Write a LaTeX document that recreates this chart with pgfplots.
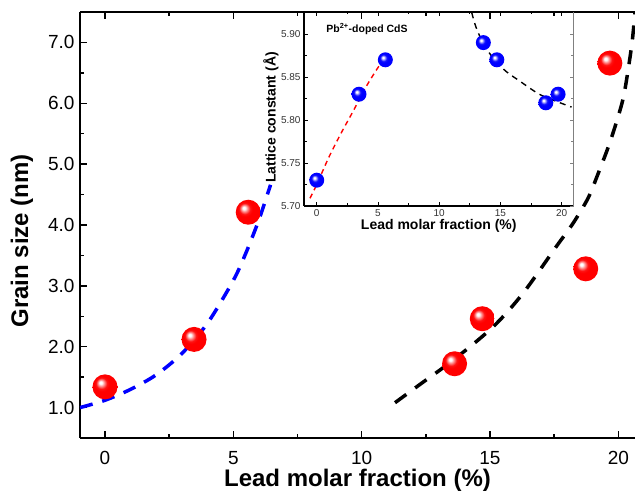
\documentclass[border=0pt]{standalone}
\usepackage{fontspec}
\setmainfont{Liberation Sans}
\usepackage{pgfplots}
\pgfplotsset{compat=1.18}
\pgfdeclareradialshading{redballsh}{\pgfqpoint{-9bp}{9bp}}{color(0bp)=(white); color(2.5bp)=(white); color(6bp)=(red!40!white); color(11bp)=(red!92!white); color(15bp)=(red); color(40bp)=(red); color(50bp)=(red!85!black)}
\pgfdeclareradialshading{blueballsh}{\pgfqpoint{-8bp}{8bp}}{color(0bp)=(white); color(2.5bp)=(white); color(6bp)=(blue!40!white); color(11bp)=(blue!92!white); color(15bp)=(blue); color(40bp)=(blue); color(50bp)=(blue!80!black)}
\pgfdeclareplotmark{redball}{\pgfpathcircle{\pgfpointorigin}{\pgfplotmarksize}\pgfshadepath{redballsh}{0}\pgfusepath{}}
\pgfdeclareplotmark{blueball}{\pgfpathcircle{\pgfpointorigin}{\pgfplotmarksize}\pgfshadepath{blueballsh}{0}\pgfusepath{}}
\begin{document}
\begin{tikzpicture}
\begin{axis}[
  name=main, at={(0,0)}, anchor=south west,
  scale only axis, width=555pt, height=426pt,
  xmin=-0.974, xmax=20.65, ymin=0.5, ymax=7.5,
  separate axis lines,
  axis x line=box, axis y line=left,
  axis line style={line width=2pt},
  y axis line style={-},
  xtick={0,5,10,15,20}, minor xtick={2.5,7.5,12.5,17.5},
  ytick={1,2,3,4,5,6,7}, minor ytick={1.5,2.5,3.5,4.5,5.5,6.5},
  tick align=inside, xtick pos=both, ytick pos=left,
  major tick length=7pt, minor tick length=4pt,
  tick style={line width=1.5pt, black},
  /pgf/number format/assume math mode=true,
  yticklabel style={/pgf/number format/fixed,/pgf/number format/fixed zerofill,/pgf/number format/precision=1, xshift=-2pt},
  xticklabel style={yshift=-10pt},
  ticklabel style={font=\fontsize{19}{22}\selectfont},
  xlabel={Lead molar fraction (\%)},
  ylabel={Grain size (nm)},
  label style={font=\fontsize{24}{28}\selectfont\bfseries},
  xlabel style={at={(axis description cs:0.5,-0.0986)}, anchor=center},
  ylabel style={at={(axis description cs:-0.1045,0.4625)}, anchor=center},
  clip=true,
]
\addplot[only marks, mark=redball, mark size=12.5pt] coordinates {
(0,1.34) (3.47,2.12) (5.58,4.21) (13.62,1.72) (14.7,2.46) (18.73,3.28) (19.67,6.66)};
\addplot[blue, line width=3.5pt, dash pattern=on 13pt off 10pt, smooth, tension=0.5] coordinates {
(-0.97,1.00) (0,1.12) (1,1.30) (2,1.54) (3,1.89) (4,2.39) (5,3.09) (5.5,3.55) (6,4.09) (6.45,4.66)};
\addplot[black, line width=3.5pt, dash pattern=on 14pt off 11pt, smooth, tension=0.5] coordinates {
(11.3,1.08) (12.27,1.38) (13.6,1.79) (15.13,2.33) (16.29,2.88) (17.59,3.65) (18.24,4.03) (18.82,4.44) (19.2,4.83) (19.59,5.26) (19.92,5.68) (20.2,6.1) (20.4,6.6) (20.55,7.05) (20.65,7.5)};
\end{axis}

\begin{axis}[
  name=inset, at={(224pt,232pt)}, anchor=south west,
  scale only axis, width=269.5pt, height=194pt,
  xmin=-1.04, xmax=20.96, ymin=5.70, ymax=5.9256,
  separate axis lines,
  axis x line=box, axis y line=left,
  axis line style={line width=1.2pt},
  y axis line style={-},
  xtick={0,5,10,15,20}, minor xtick={2.5,7.5,12.5,17.5},
  ytick={5.70,5.75,5.80,5.85,5.90}, minor ytick={5.725,5.775,5.825,5.875},
  tick align=inside, ytick pos=left,
  major tick length=4pt, minor tick length=2.5pt,
  tick style={line width=0.8pt, black},
  /pgf/number format/assume math mode=true,
  yticklabel style={/pgf/number format/fixed,/pgf/number format/fixed zerofill,/pgf/number format/precision=2},
  ticklabel style={font=\fontsize{10}{12}\selectfont, text=black!80},
  xlabel={Lead molar fraction (\%)},
  ylabel={Lattice constant (Å)},
  label style={font=\fontsize{14}{16}\selectfont\bfseries},
  xlabel style={at={(axis description cs:0.5,-0.103)}, anchor=center},
  ylabel style={at={(axis description cs:-0.1224,0.456)}, anchor=center},
]
\addplot[only marks, mark=blueball, mark size=7.5pt] coordinates {
(0,5.73) (3.45,5.83) (5.6,5.87) (13.6,5.89) (14.7,5.87) (18.7,5.82) (19.7,5.83)};
\addplot[red, line width=1.4pt, dash pattern=on 5pt off 4pt, smooth] coordinates {
(-0.55,5.709) (0,5.725) (1,5.757) (2,5.785) (3,5.811) (4,5.838) (5,5.861) (5.7,5.875)};
\addplot[black, line width=1.4pt, dash pattern=on 6pt off 5pt, smooth] coordinates {
(12.65,5.925) (13.0,5.908) (13.6,5.889) (14.5,5.870) (15.5,5.856) (16.6,5.845) (17.5,5.836) (18.3,5.829) (19.5,5.822) (20.8,5.815)};
\node[anchor=west, font=\fontsize{10.5}{12}\selectfont\bfseries] at (axis cs:0.5,5.906) {Pb\textsuperscript{2+}-doped CdS};
\end{axis}

\begin{axis}[
  at={(224pt,232pt)}, anchor=south west,
  scale only axis, width=269.5pt, height=194pt,
  xmin=-1.04, xmax=20.96, ymin=5.70, ymax=5.9256,
  axis x line=none, axis y line=right,
  y axis line style={-, gray, line width=1.6pt},
  ytick={5.70,5.75,5.80,5.85,5.90}, minor ytick={5.725,5.775,5.825,5.875},
  yticklabels={}, tick align=inside,
  major tick length=4pt, minor tick length=2.5pt,
  tick style={line width=0.8pt, gray},
]
\end{axis}
\pgfresetboundingbox
\useasboundingbox (-80pt,-54pt) rectangle (555pt,438pt);
\end{tikzpicture}
\end{document}
